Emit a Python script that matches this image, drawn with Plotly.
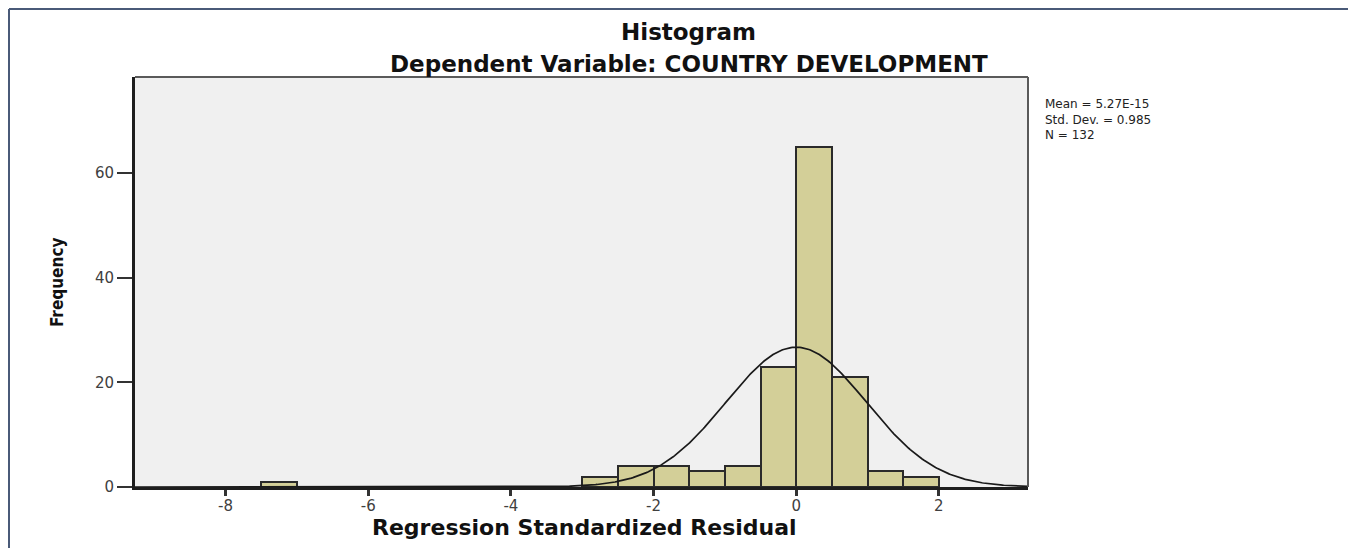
import numpy as np
import plotly.graph_objects as go

# Data
bin_starts = [-7.5, -3.0, -2.5, -2.0, -1.5, -1.0, -0.5, 0.0, 0.5, 1.0, 1.5]
counts = [1, 2, 4, 4, 3, 4, 23, 65, 21, 3, 2]
bin_width = 0.5
mean_val = 5.27e-15
std_val = 0.985
n_obs = 132
x_ticks = [-8, -6, -4, -2, 0, 2]
y_ticks = [0, 20, 40, 60]
stats_lines = ["Mean = 5.27E-15", f"Std. Dev. = {std_val}", f"N = {n_obs}"]

W, H = 1356, 548
OFF = 8  # page body margin offset
# plot area in page pixels
L, R, T, B = 135, 1028, 77, 487
pw, ph = R - L, B - T

def px(x):
    return (x - L) / pw

def py(y):
    return (B - y) / ph

centers = [s + bin_width / 2 for s in bin_starts]

# Normal curve scaled to counts
xs = np.linspace(-9.27, 3.25, 600)
ys = n_obs * bin_width / (std_val * np.sqrt(2 * np.pi)) * np.exp(-0.5 * ((xs - mean_val) / std_val) ** 2)

fig = go.Figure()
fig.add_trace(go.Bar(
    x=centers, y=counts, width=bin_width,
    marker=dict(color="#d3cf98", line=dict(color="#2a2a2a", width=2)),
    hoverinfo="x+y", showlegend=False,
))
fig.add_trace(go.Scatter(
    x=xs, y=ys, mode="lines", line=dict(color="#1a1a1a", width=1.7),
    hoverinfo="skip", showlegend=False,
))

font_wide = "DejaVu Sans, Verdana, sans-serif"

fig.update_layout(
    width=W, height=H,
    margin=dict(l=L - OFF, r=W - (R - OFF), t=T - OFF, b=H - (B - OFF), autoexpand=False),
    paper_bgcolor="white",
    plot_bgcolor="#f0f0f0",
    bargap=0,
    font=dict(family=font_wide, color="#333333", size=14),
    xaxis=dict(
        range=[-9.27, 3.25], tickvals=x_ticks, ticktext=[str(v) for v in x_ticks],
        showgrid=False, zeroline=False,
        showline=True, linecolor="#1e1e1e", linewidth=2.5,
        ticks="outside", ticklen=6, tickwidth=2.5, tickcolor="#333333",
        ticklabelstandoff=-3,
        tickfont=dict(size=15, color="#404040", family=font_wide),
    ),
    yaxis=dict(
        range=[0, 78.4], tickvals=y_ticks, ticktext=[str(v) for v in y_ticks],
        showgrid=False, zeroline=False,
        showline=True, linecolor="#1e1e1e", linewidth=3,
        ticks="outside", ticklen=15, tickwidth=1.5, tickcolor="#333333",
        tickfont=dict(size=15, color="#404040", family=font_wide),
    ),
    shapes=[
        # plot frame top and right
        dict(type="line", xref="paper", yref="paper", x0=0, x1=1, y0=1, y1=1,
             line=dict(color="#5a5a5a", width=2)),
        dict(type="line", xref="paper", yref="paper", x0=1, x1=1, y0=0, y1=1,
             line=dict(color="#5a5a5a", width=2)),
        # outer frame
        dict(type="line", xref="paper", yref="paper", x0=px(9), x1=px(1360), y0=py(9), y1=py(9),
             line=dict(color="#4a5a78", width=2)),
        dict(type="line", xref="paper", yref="paper", x0=px(9), x1=px(9), y0=py(9), y1=py(560),
             line=dict(color="#4a5a78", width=2)),
    ],
    annotations=[
        dict(text="<b>Histogram</b>", xref="paper", yref="paper", x=px(688), y=py(32),
             showarrow=False, font=dict(size=23, color="#111111", family=font_wide),
             xanchor="center", yanchor="middle"),
        dict(text="<b>Dependent Variable: COUNTRY DEVELOPMENT</b>", xref="paper", yref="paper",
             x=px(689), y=py(64), showarrow=False,
             font=dict(size=23, color="#111111", family=font_wide),
             xanchor="center", yanchor="middle"),
        dict(text="<b>Regression Standardized Residual</b>", xref="paper", yref="paper",
             x=px(584), y=py(527), showarrow=False,
             font=dict(size=22, color="#111111", family=font_wide),
             xanchor="center", yanchor="middle"),
        dict(text="<b>Frequency</b>", xref="paper", yref="paper", x=px(57), y=py(283),
             showarrow=False, textangle=-90,
             font=dict(size=17, color="#111111",
                       family="DejaVu Sans Condensed, Liberation Sans, Arial, sans-serif"),
             xanchor="center", yanchor="middle"),
        dict(text="<br>".join(stats_lines), xref="paper", yref="paper", x=px(1043), y=py(119),
             showarrow=False, align="left", xanchor="left", yanchor="middle",
             font=dict(size=12, color="#222222", family=font_wide)),
    ],
)

fig.write_html("out.html")
